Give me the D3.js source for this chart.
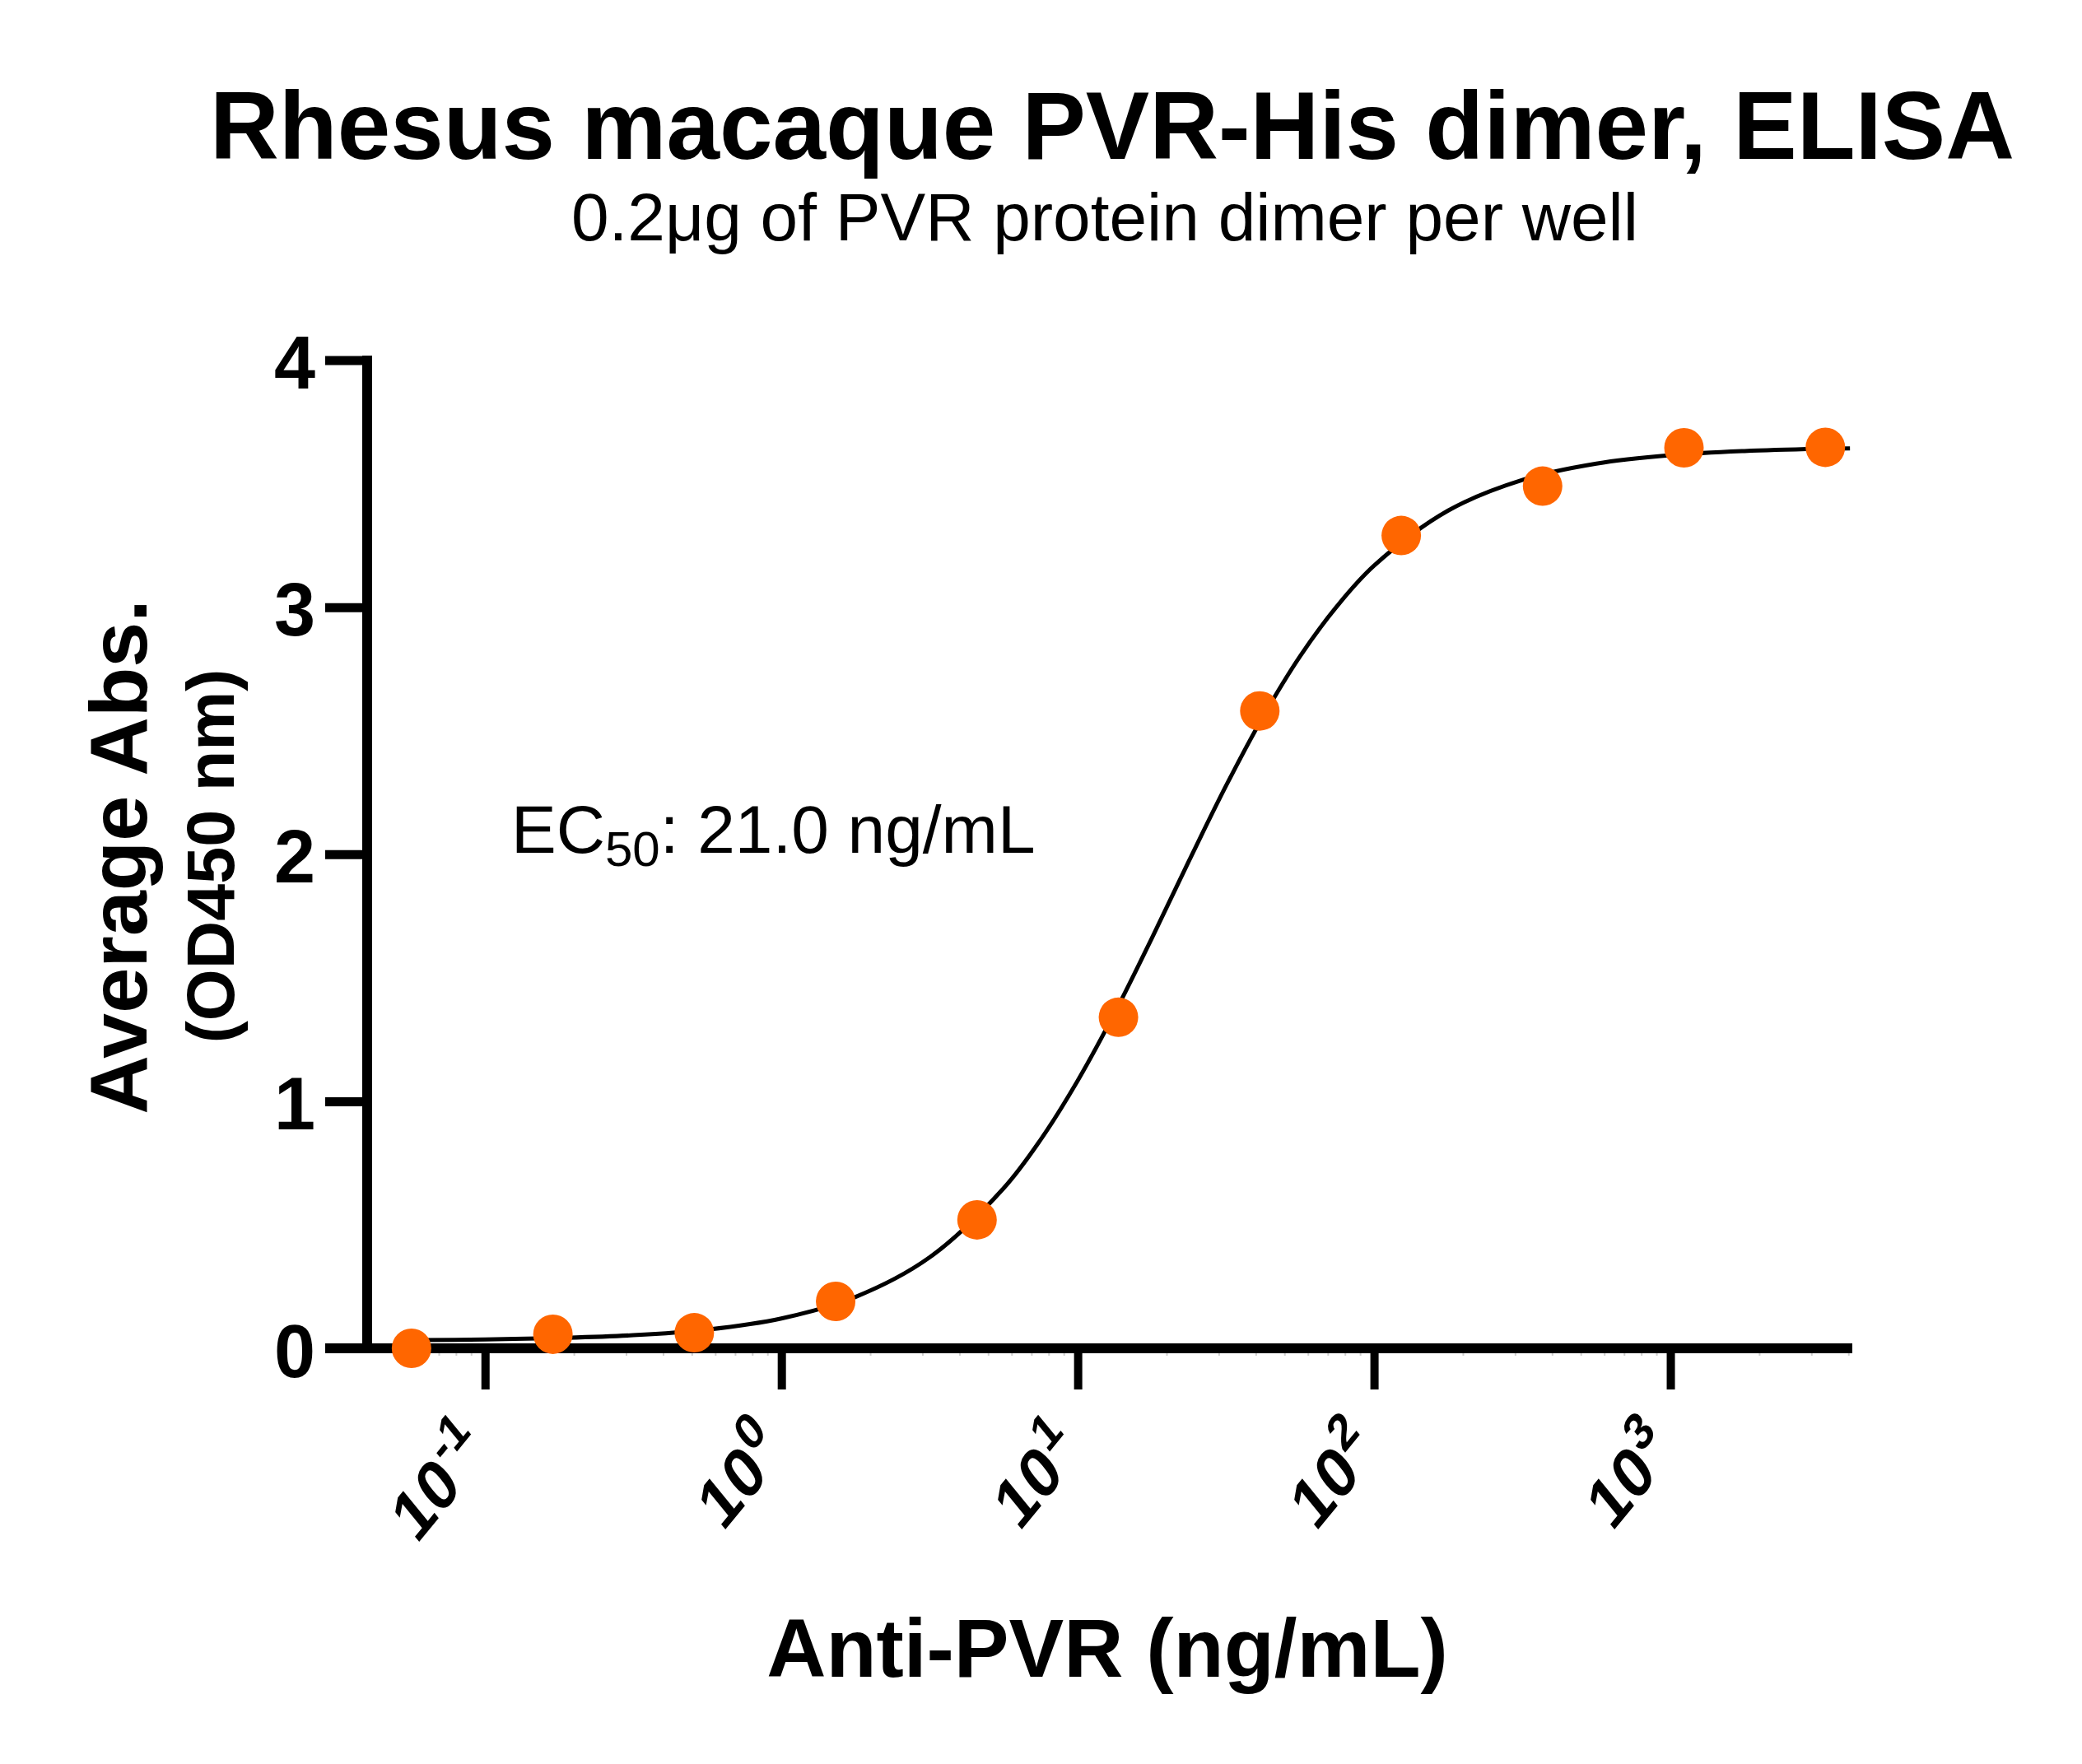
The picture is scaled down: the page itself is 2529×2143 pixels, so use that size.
<!DOCTYPE html>
<html>
<head>
<meta charset="utf-8">
<script src="https://cdn.jsdelivr.net/npm/d3@7"></script>
<style>
  html, body { margin: 0; padding: 0; background: #fff; }
  svg { display: block; }
  text { font-family: "Liberation Sans", Arial, sans-serif; fill: #000; }
</style>
</head>
<body>
<svg id="chart" width="2529" height="2143"></svg>
<script>
// ---- Data ----
const concentrations = [0.05645, 0.1694, 0.5081, 1.524, 4.572, 13.72, 41.15, 123.5, 370.4, 1111, 3333];
const absorbance = [0.00, 0.057, 0.063, 0.19, 0.52, 1.34, 2.58, 3.29, 3.49, 3.645, 3.647];
// fitted curve
const curveConc = [0.05623, 0.1, 0.1778, 0.3162, 0.5623, 1, 1.778, 3.162, 5.623, 7.499, 10, 13.34, 17.78, 23.71, 31.62, 42.17, 56.23, 74.99, 100, 177.8, 316.2, 562.3, 1000, 1778, 3162, 4036];
const curveAbs  = [0.033, 0.036, 0.042, 0.053, 0.076, 0.121, 0.208, 0.368, 0.648, 0.845, 1.084, 1.359, 1.660, 1.972, 2.276, 2.556, 2.801, 3.004, 3.168, 3.391, 3.515, 3.581, 3.615, 3.632, 3.641, 3.643];
const yTicks = [0, 1, 2, 3, 4];
const xTicks = [0.1, 1, 10, 100, 1000];
const xTickExponents = ["-1", "0", "1", "2", "3"];
const titleText = "Rhesus macaque PVR-His dimer, ELISA";
const subtitleText = "0.2\u03bcg of PVR protein dimer per well";
const xLabel = "Anti-PVR (ng/mL)";
const yLabel1 = "Average Abs.";
const yLabel2 = "(OD450 nm)";
const ec50Value = "21.0";

// ---- Layout ----
const svg = d3.select("#chart");
const x = d3.scaleLog().domain([0.04, 4110]).range([446, 2250]);
const y = d3.scaleLinear().domain([0, 4]).range([1638, 437.5]);
const axisW = 12;

// Title
svg.append("text").attr("x", 1351).attr("y", 193).attr("text-anchor", "middle")
  .attr("font-size", 116).attr("font-weight", "bold").text(titleText);
svg.append("text").attr("x", 1342).attr("y", 292).attr("text-anchor", "middle")
  .attr("font-size", 82).text(subtitleText);

// Y axis
const yAxis = d3.axisLeft(y).tickValues(yTicks).tickSize(51).tickPadding(0).tickFormat(d3.format("d"));
const gy = svg.append("g").attr("transform", "translate(446,0)").call(yAxis);
gy.select(".domain").remove();
gy.selectAll(".tick line").attr("stroke", "#000").attr("stroke-width", 11).attr("x2", -51);
gy.selectAll(".tick text").remove();
gy.selectAll(".tick").append("text")
  .attr("x", -63).attr("y", 34)
  .attr("text-anchor", "end")
  .attr("font-size", 90).attr("font-weight", "bold")
  .attr("fill", "#000")
  .style("font-family", '"Liberation Sans", Arial, sans-serif')
  .text(d => d);
// y axis line
svg.append("line").attr("x1", 446).attr("x2", 446)
  .attr("y1", y(4) - 5.5).attr("y2", y(0) + axisW / 2)
  .attr("stroke", "#000").attr("stroke-width", axisW);

// X axis
const xAxis = d3.axisBottom(x).tickValues(xTicks).tickSize(50).tickFormat("");
const gx = svg.append("g").attr("transform", `translate(0,${y(0)})`).call(xAxis);
gx.select(".domain").remove();
gx.selectAll(".tick line").attr("stroke", "#000").attr("stroke-width", 10);
// minor ticks
const minor = [];
for (let e = -2; e <= 3; e++) for (let m = 2; m <= 9; m++) {
  const v = m * Math.pow(10, e);
  if (v > 0.04 && v < 4110) minor.push(v);
}
svg.append("g").selectAll("line").data(minor).join("line")
  .attr("x1", d => x(d)).attr("x2", d => x(d))
  .attr("y1", y(0) + 6).attr("y2", y(0) + 9)
  .attr("stroke", "#d0d0d0").attr("stroke-width", 2);
svg.append("line").attr("x1", 395).attr("x2", 2250)
  .attr("y1", y(0)).attr("y2", y(0))
  .attr("stroke", "#000").attr("stroke-width", axisW);

// x tick labels (angled, slightly stretched as in the reference)
const xl = svg.append("g").selectAll("g").data(xTicks).join("g")
  .attr("transform", d => `translate(${x(d) + 6},1768) scale(1,1.22) rotate(-45)`);
xl.each(function(d, i) {
  const t = d3.select(this).append("text")
    .attr("text-anchor", "end").attr("font-size", 72).attr("font-weight", "bold");
  t.append("tspan").text("10");
  t.append("tspan").attr("dy", -31).attr("font-size", 52).text(xTickExponents[i]);
});

// Curve
const line = d3.line().x(d => x(d[0])).y(d => y(d[1])).curve(d3.curveCatmullRom.alpha(0.5));
svg.append("path").datum(d3.zip(curveConc, curveAbs))
  .attr("d", line).attr("fill", "none").attr("stroke", "#000").attr("stroke-width", 5);

// Points
svg.append("g").selectAll("circle").data(d3.zip(concentrations, absorbance)).join("circle")
  .attr("cx", d => x(d[0])).attr("cy", d => y(d[1])).attr("r", 24)
  .attr("fill", "#FF6600");

// EC50 annotation
const ec = svg.append("text").attr("x", 621).attr("y", 1036).attr("font-size", 82);
ec.append("tspan").text("EC");
ec.append("tspan").attr("font-size", 60).attr("dy", 16).text("50");
ec.append("tspan").attr("dy", -16).text(": " + ec50Value + " ng/mL");

// Axis labels
svg.append("text").attr("x", 1345).attr("y", 2037).attr("text-anchor", "middle")
  .attr("font-size", 100).attr("font-weight", "bold").text(xLabel);
svg.append("text").attr("transform", "translate(178,1041) rotate(-90)")
  .attr("text-anchor", "middle").attr("font-size", 99).attr("font-weight", "bold").text(yLabel1);
svg.append("text").attr("transform", "translate(284,1040) rotate(-90)")
  .attr("text-anchor", "middle").attr("font-size", 81).attr("font-weight", "bold").text(yLabel2);
</script>
</body>
</html>
